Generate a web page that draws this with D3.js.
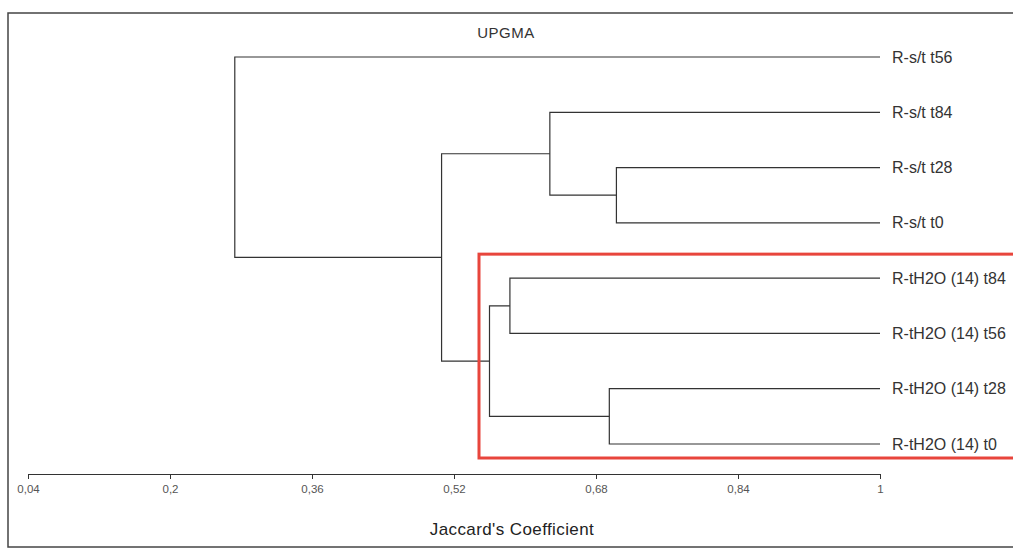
<!DOCTYPE html>
<html>
<head>
<meta charset="utf-8">
<script src="https://cdnjs.cloudflare.com/ajax/libs/d3/7.8.5/d3.min.js"></script>
<style>
  body { margin: 0; background: #fff; }
  svg { font-family: "Liberation Sans", Arial, sans-serif; }
</style>
</head>
<body>
<svg id="chart" width="1013" height="550"></svg>
<script>
const leaves = ["R-s/t t56", "R-s/t t84", "R-s/t t28", "R-s/t t0",
                "R-tH2O (14) t84", "R-tH2O (14) t56", "R-tH2O (14) t28", "R-tH2O (14) t0"];

// linkage: [child a, child b, similarity]; new node ids follow the leaves (8, 9, ...)
const merges = [
    [2, 3, 0.703],
    [6, 7, 0.695],
    [4, 5, 0.583],
    [1, 8, 0.628],
    [10, 9, 0.560],
    [11, 12, 0.506],
    [0, 13, 0.273]
];

const tickValues = [0.04, 0.2, 0.36, 0.52, 0.68, 0.84, 1];
const highlighted = leaves.slice(4);

const svg = d3.select("#chart");

const x = d3.scaleLinear().domain([0.04, 1]).range([28, 880]);
const y = d3.scalePoint().domain(leaves).range([57, 444]);

// frame
svg.append("rect")
    .attr("x", 8).attr("y", 13)
    .attr("width", 1020).attr("height", 534)
    .attr("fill", "none")
    .attr("stroke", "#444")
    .attr("stroke-width", 1.5);

// build nodes
const nodes = leaves.map(name => ({ name, value: 1, y: y(name) }));
merges.forEach(([a, b, v]) => {
    const na = nodes[a], nb = nodes[b];
    nodes.push({ children: [na, nb], value: v, y: (na.y + nb.y) / 2 });
});

const g = svg.append("g")
    .attr("fill", "none")
    .attr("stroke", "#333")
    .attr("stroke-width", 1.2);

nodes.filter(d => d.children).forEach(d => {
    const [a, b] = d.children;
    g.append("path")
        .attr("d", `M${x(a.value)},${a.y}H${x(d.value)}V${b.y}H${x(b.value)}`);
});

// leaf labels
svg.append("g")
    .selectAll("text")
    .data(leaves)
    .join("text")
    .attr("x", x(1) + 12)
    .attr("y", d => y(d))
    .attr("dy", "0.35em")
    .attr("font-size", 16)
    .attr("fill", "#333")
    .text(d => d);

// highlight box around the tH2O cluster
const boxTop = y(highlighted[0]), boxBottom = y(highlighted[highlighted.length - 1]);
svg.append("rect")
    .attr("x", 479)
    .attr("y", boxTop - 24)
    .attr("width", 560)
    .attr("height", boxBottom - boxTop + 38)
    .attr("fill", "none")
    .attr("stroke", "#e8453c")
    .attr("stroke-width", 3);

// axis
const axis = svg.append("g")
    .attr("transform", "translate(0,474)")
    .call(d3.axisBottom(x)
        .tickValues(tickValues)
        .tickSize(5)
        .tickSizeOuter(0)
        .tickPadding(6)
        .tickFormat(d => String(d).replace(".", ",")));
axis.select(".domain").attr("stroke", "#333");
axis.selectAll(".tick line").attr("stroke", "#333");
axis.selectAll(".tick text")
    .attr("font-size", 11.5)
    .attr("fill", "#555")
    .attr("font-family", "Liberation Sans, Arial, sans-serif");

svg.append("text")
    .attr("x", 506).attr("y", 33)
    .attr("text-anchor", "middle")
    .attr("dy", "0.35em")
    .attr("font-size", 15)
    .attr("letter-spacing", 0.5)
    .attr("fill", "#333")
    .text("UPGMA");

svg.append("text")
    .attr("x", 512).attr("y", 529)
    .attr("text-anchor", "middle")
    .attr("dy", "0.35em")
    .attr("font-size", 17)
    .attr("letter-spacing", 0.4)
    .attr("fill", "#222")
    .text("Jaccard's Coefficient");
</script>
</body>
</html>
